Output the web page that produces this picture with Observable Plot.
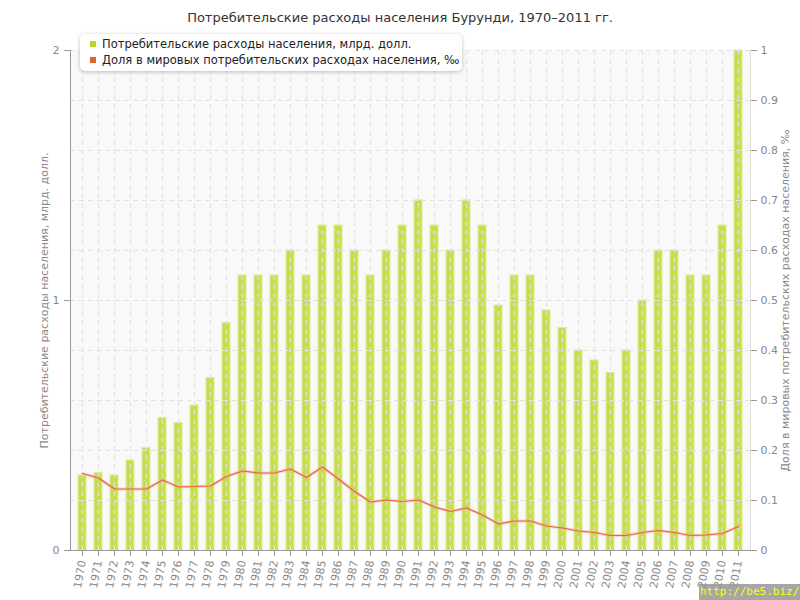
<!DOCTYPE html>
<html><head><meta charset="utf-8">
<script src="https://cdn.jsdelivr.net/npm/d3@7"></script>
<script src="https://cdn.jsdelivr.net/npm/@observablehq/plot@0.6"></script>
<style>
body{margin:0;background:#fff;font-family:"DejaVu Sans",sans-serif;}
#wrap{position:relative;width:800px;height:600px;}
#title{position:absolute;top:10px;left:0;width:800px;text-align:center;font-size:13px;color:#333;}
#legend{position:absolute;left:80px;top:34px;width:382px;height:37px;background:#fff;border-radius:5px;box-shadow:0 1px 4px rgba(0,0,0,0.25);font-size:11.5px;color:#222;}
.item{position:absolute;left:10px;white-space:nowrap;}
.sw{display:inline-block;width:6px;height:6px;margin-right:6px;vertical-align:middle;position:relative;top:-1px;}
#wm{position:absolute;right:0;bottom:0;width:101px;height:16px;background:rgba(150,150,150,0.85);color:#ffff00;font-family:"DejaVu Sans Mono",monospace;font-size:11px;line-height:16px;text-align:left;padding-left:1px;box-sizing:border-box;white-space:nowrap;}
</style></head>
<body>
<div id="wrap">
<div id="chart"></div>
<div id="title">Потребительские расходы населения Бурунди, 1970–2011 гг.</div>
<div id="legend">
  <div class="item" style="top:3px"><span class="sw" style="background:#b5d52a"></span>Потребительские расходы населения, млрд. долл.</div>
  <div class="item" style="top:19px"><span class="sw" style="background:#e2622f"></span>Доля в мировых потребительских расходах населения, ‰</div>
</div>
<div id="wm">http://be5.biz/</div>
</div>
<script>
const years = ["1970","1971","1972","1973","1974","1975","1976","1977","1978","1979","1980","1981","1982","1983","1984","1985","1986","1987","1988","1989","1990","1991","1992","1993","1994","1995","1996","1997","1998","1999","2000","2001","2002","2003","2004","2005","2006","2007","2008","2009","2010","2011"];
const spending = [0.30,0.31,0.30,0.36,0.41,0.53,0.51,0.58,0.69,0.91,1.10,1.10,1.10,1.20,1.10,1.30,1.30,1.20,1.10,1.20,1.30,1.40,1.30,1.20,1.40,1.30,0.98,1.10,1.10,0.96,0.89,0.80,0.76,0.71,0.80,1.00,1.20,1.20,1.10,1.10,1.30,2.00];
const share = [0.154,0.145,0.123,0.123,0.123,0.141,0.127,0.128,0.129,0.148,0.159,0.155,0.155,0.163,0.146,0.167,0.143,0.118,0.097,0.101,0.098,0.101,0.087,0.078,0.085,0.071,0.053,0.059,0.059,0.049,0.045,0.039,0.036,0.030,0.030,0.036,0.040,0.036,0.030,0.031,0.034,0.048];
const leftTicks = [0,1,2];
const rightTicks = [0,0.1,0.2,0.3,0.4,0.5,0.6,0.7,0.8,0.9,1];
const leftLabel = "Потребительские расходы населения, млрд. долл.";
const rightLabel = "Доля в мировых потребительских расходах населения, ‰";

const data = years.map((y,i)=>({year:y, spend:spending[i], share:share[i]}));
const k = 2; // right axis maps [0,1] onto left [0,2]

const chart = Plot.plot({
  width:800, height:600,
  marginTop:50, marginBottom:50, marginLeft:70, marginRight:50,
  style:{fontFamily:"DejaVu Sans, sans-serif", fontSize:"11px", color:"#888", background:"transparent"},
  x:{type:"band", domain:years, paddingInner:0.5, paddingOuter:0.25},
  y:{domain:[0,2]},
  marks:[
    Plot.frame({fill:"#f9f9f9", stroke:null}),
    Plot.barY(data,{x:"year", y:"spend", fill:"#c6df45", stroke:"#dcec98", strokeWidth:1.2}),
    Plot.gridY({ticks:10, stroke:"#e2e2e2", strokeOpacity:1, strokeDasharray:"5,4"}),
    Plot.gridX({stroke:"#e2e2e2", strokeOpacity:1, strokeDasharray:"5,4"}),
    Plot.line(data,{x:"year", y:d=>d.share*k, stroke:"#f2b09a", strokeWidth:3, strokeOpacity:0.5}),
    Plot.line(data,{x:"year", y:d=>d.share*k, stroke:"#e8643a", strokeWidth:1.2}),
    Plot.frame({anchor:"left", stroke:"#999"}),
    Plot.frame({anchor:"right", stroke:"#ddd"}),
    Plot.frame({anchor:"bottom", stroke:"#999"}),
    Plot.axisY({ticks:leftTicks, tickFormat:d=>String(d), anchor:"left", tickSize:6, tickPadding:5, stroke:"#999", label:leftLabel, labelAnchor:"center", labelOffset:30, labelArrow:"none"}),
    Plot.axisY({ticks:rightTicks.map(v=>v*k), tickFormat:d=>String(+(d/k).toFixed(1)), anchor:"right", tickSize:6, tickPadding:4, stroke:"#999", label:rightLabel, labelAnchor:"center", labelOffset:38, labelArrow:"none"}),
    Plot.axisX({anchor:"bottom", tickSize:6, tickPadding:4, tickRotate:-80, stroke:"#999", label:null, fontSize:11})
  ]
});
document.getElementById("chart").appendChild(chart);
</script>
</body></html>
